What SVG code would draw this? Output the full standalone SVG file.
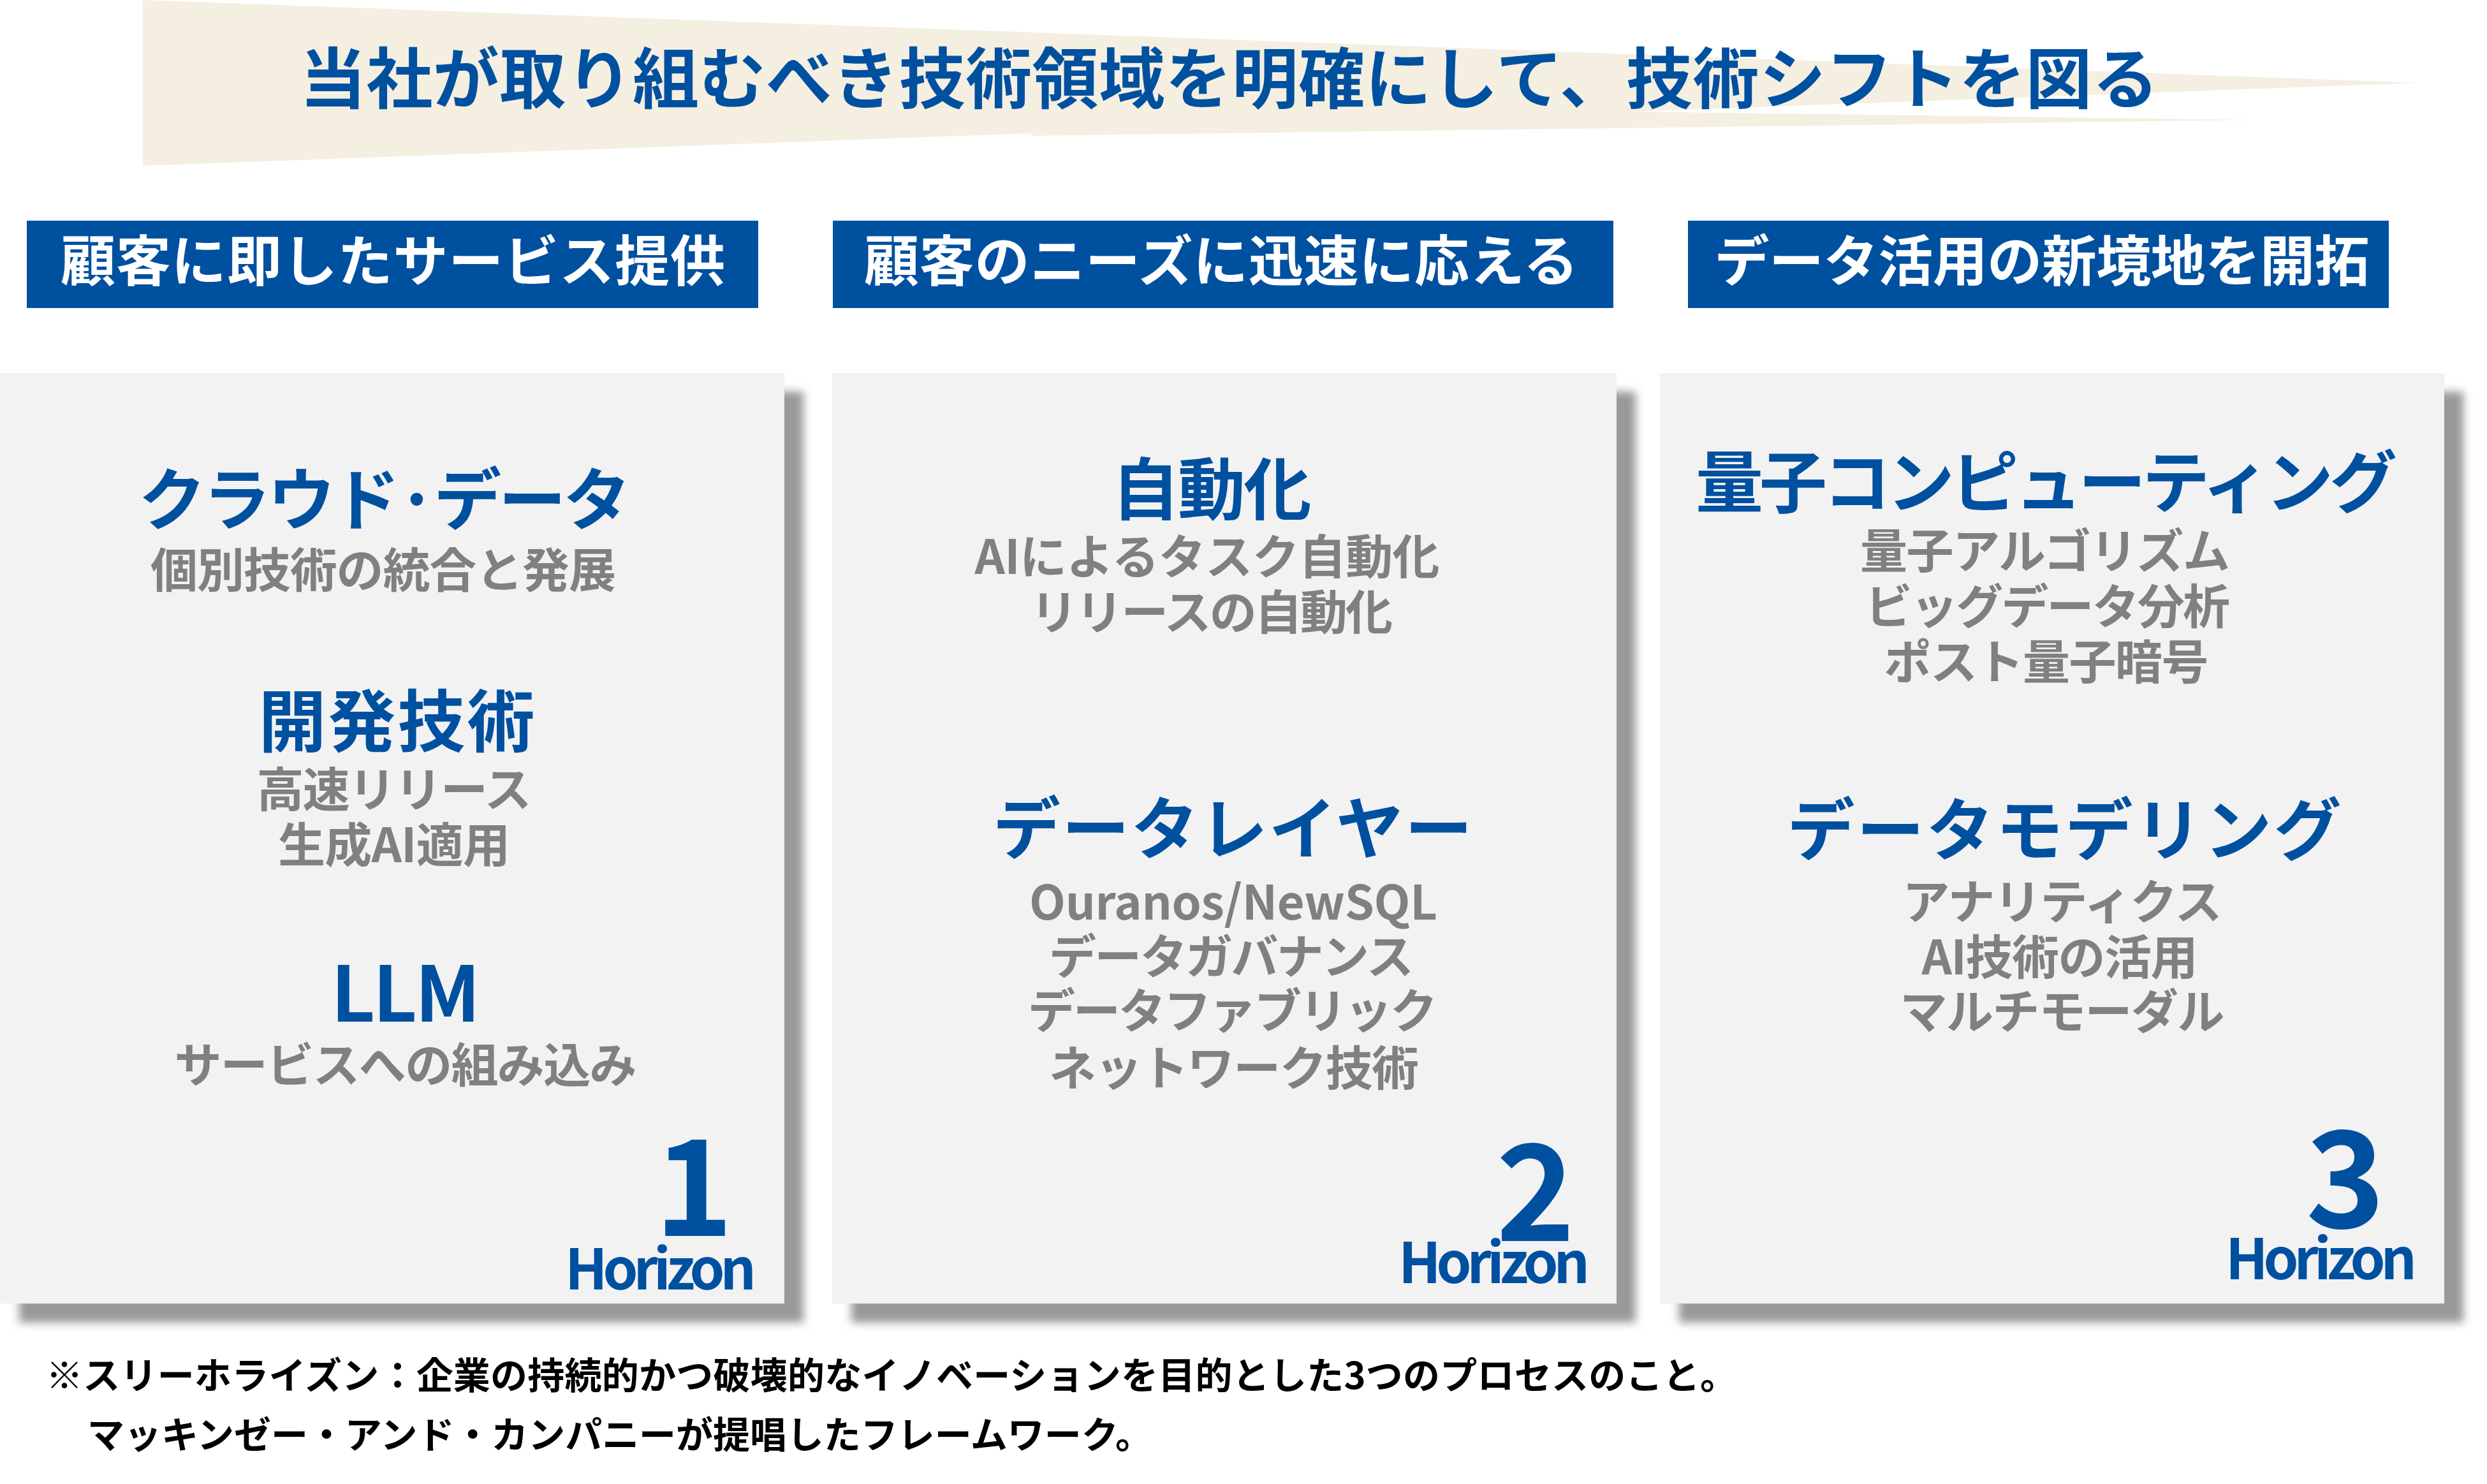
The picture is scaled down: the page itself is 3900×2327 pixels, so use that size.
<svg xmlns="http://www.w3.org/2000/svg" width="3900" height="2327" viewBox="0 0 3900 2327">
<defs>
<filter id="blur" x="-10%" y="-10%" width="120%" height="120%"><feGaussianBlur stdDeviation="7"/></filter>
<style>
text{font-family:"Noto Sans CJK JP","Noto Sans",sans-serif;font-weight:700}
.title{fill:#0050A0;font-size:104px}
.hdr{fill:#FFFFFF;font-size:86px;text-anchor:middle}
.hbox{fill:#0050A0}
.card{fill:#F2F2F2}
.shadow{fill:#999999}
.h{fill:#0050A0;font-size:106px;text-anchor:middle}
.s{fill:#808080;font-size:74px;text-anchor:middle}
.num{fill:#0050A0;font-size:210px;text-anchor:end}
.hz{fill:#0050A0;font-size:88px}
.note{fill:#000000;font-size:58px}
</style>
</defs>
<g id="banner">
<polygon fill="#F4EFE1" points="224,0 3793,130 2562,175 3532,188 1617,213 1617,209 224,260"/>
<text class="title" x="470" y="162" textLength="2915">当社が取り組むべき技術領域を明確にして、技術シフトを図る</text>
</g>
<g id="header1"><rect class="hbox" x="42" y="346" width="1147" height="137"/><text class="hdr" x="616" y="441" textLength="1042">顧客に即したサービス提供</text></g>
<g id="header2"><rect class="hbox" x="1306" y="346" width="1224" height="137"/><text class="hdr" x="1915" y="441" textLength="1120">顧客のニーズに迅速に応える</text></g>
<g id="header3"><rect class="hbox" x="2647" y="346" width="1099" height="137"/><text class="hdr" x="3202" y="441" textLength="1027">データ活用の新境地を開拓</text></g>
<g id="card1">
<rect class="shadow" x="30" y="614" width="1230" height="1460" filter="url(#blur)"/>
<rect class="card" x="0" y="585" width="1230" height="1459"/>
<text class="h" x="603" y="822" textLength="772">クラウド·データ</text>
<text class="s" x="601" y="921" textLength="730">個別技術の統合と発展</text>
<text class="h" x="622" y="1170" textLength="433">開発技術</text>
<text class="s" x="618" y="1265" textLength="431">高速リリース</text>
<text class="s" x="618" y="1352" textLength="364">生成AI適用</text>
<text class="h" x="636" y="1602" style="font-size:120px" textLength="234">LLM</text>
<text class="s" x="636" y="1697" textLength="725">サービスへの組み込み</text>
<text class="num" x="1150" y="1938">1</text>
<text class="hz" x="886" y="2022" textLength="300">Horizon</text>
</g>
<g id="card2">
<rect class="shadow" x="1335" y="614" width="1230" height="1460" filter="url(#blur)"/>
<rect class="card" x="1305" y="585" width="1230" height="1459"/>
<text class="h" x="1900" y="806" textLength="313">自動化</text>
<text class="s" x="1893" y="900" textLength="729">AIによるタスク自動化</text>
<text class="s" x="1900" y="987" textLength="568">リリースの自動化</text>
<text class="h" x="1933" y="1338" textLength="752">データレイヤー</text>
<text class="s" x="1934" y="1442" textLength="640">Ouranos/NewSQL</text>
<text class="s" x="1931" y="1527" textLength="572">データガバナンス</text>
<text class="s" x="1933" y="1612" textLength="642">データファブリック</text>
<text class="s" x="1935" y="1702" textLength="580">ネットワーク技術</text>
<text class="num" x="2470" y="1946">2</text>
<text class="hz" x="2193" y="2012" textLength="300">Horizon</text>
</g>
<g id="card3">
<rect class="shadow" x="2633" y="614" width="1230" height="1460" filter="url(#blur)"/>
<rect class="card" x="2603" y="585" width="1230" height="1459"/>
<text class="h" x="3209" y="795" textLength="1100">量子コンピューティング</text>
<text class="s" x="3207" y="891" textLength="580">量子アルゴリズム</text>
<text class="s" x="3211" y="978" textLength="572">ビッグデータ分析</text>
<text class="s" x="3209" y="1065" textLength="509">ポスト量子暗号</text>
<text class="h" x="3237" y="1340" textLength="869">データモデリング</text>
<text class="s" x="3234" y="1441" textLength="501">アナリティクス</text>
<text class="s" x="3230" y="1528" textLength="433">AI技術の活用</text>
<text class="s" x="3234" y="1613" textLength="509">マルチモーダル</text>
<text class="num" x="3740" y="1925">3</text>
<text class="hz" x="3490" y="2006" textLength="300">Horizon</text>
</g>
<g id="connectors"></g>
<g id="footnote">
<text class="note" x="72" y="2178" textLength="2652">※スリーホライズン：企業の持続的かつ破壊的なイノベーションを目的とした3つのプロセスのこと。</text>
<text class="note" x="137" y="2271" textLength="1670">マッキンゼー・アンド・カンパニーが提唱したフレームワーク。</text>
</g>
</svg>
